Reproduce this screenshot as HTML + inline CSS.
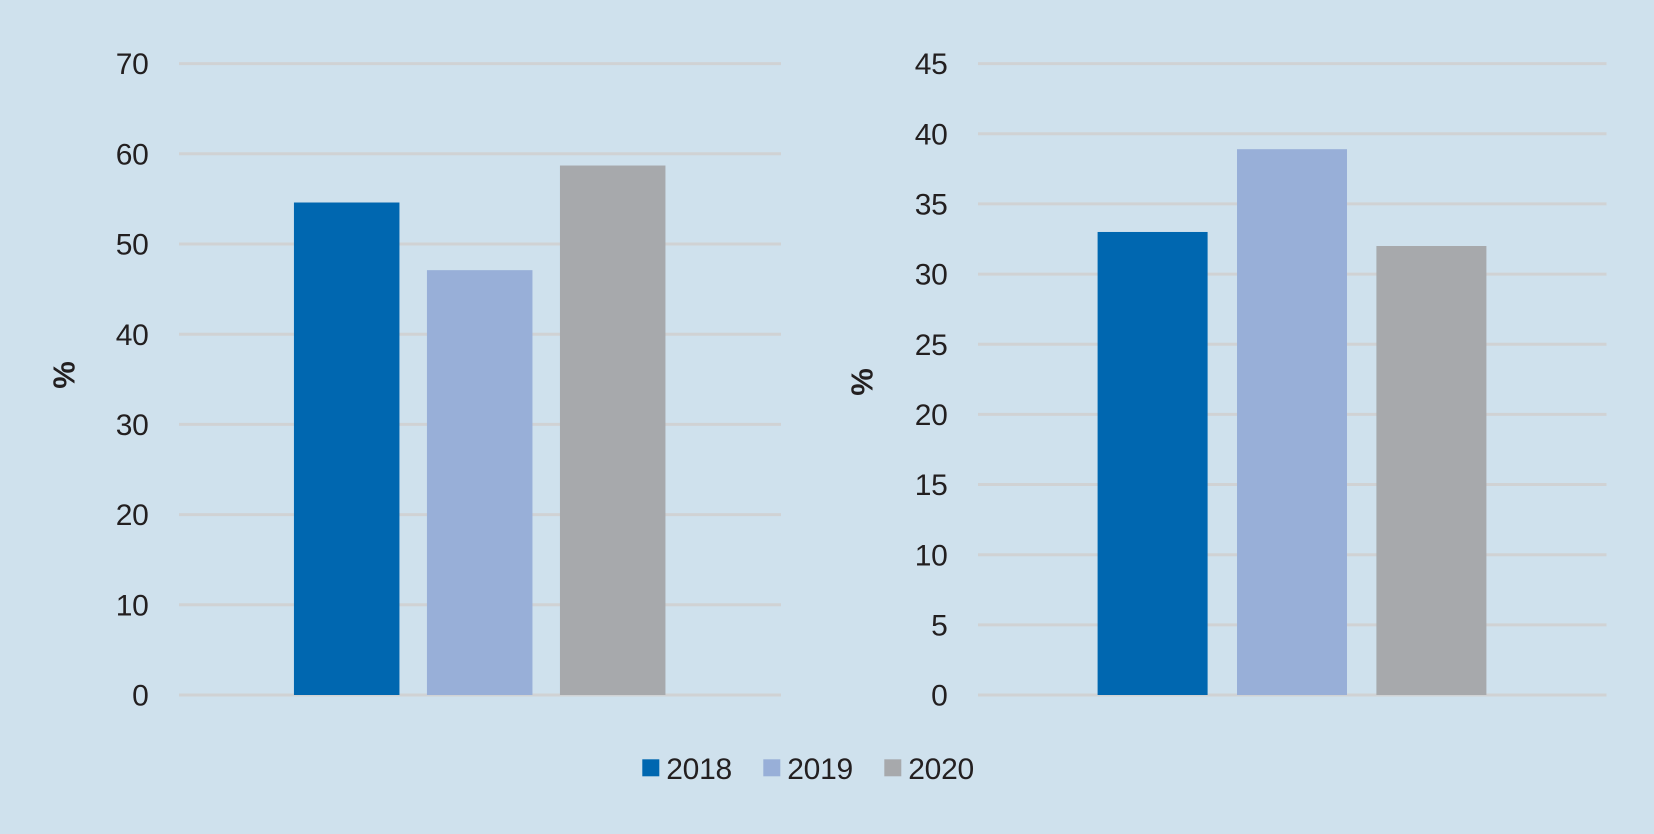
<!DOCTYPE html>
<html lang="en">
<head>
<meta charset="utf-8">
<title>Two-panel bar chart, 2018–2020</title>
<style>
  html, body { margin: 0; padding: 0; background: #cfe1ed; }
  svg { display: block; font-family: "Liberation Sans", sans-serif; }
  text { fill: #231f20; }
</style>
</head>
<body>
<svg id="chart" xmlns="http://www.w3.org/2000/svg" width="1654" height="834" viewBox="0 0 1654 834">
  <rect x="0" y="0" width="1654" height="834" fill="#cfe1ed"></rect>
  <g id="panel-left"></g>
  <g id="panel-right"></g>
  <g id="legend"></g>
</svg>
<script>
const years = ['2018', '2019', '2020'];
const leftValues = [54.6, 47.1, 58.7];
const rightValues = [33, 38.9, 32];
const leftTicks = [0, 10, 20, 30, 40, 50, 60, 70];
const rightTicks = [0, 5, 10, 15, 20, 25, 30, 35, 40, 45];
const axisLabel = '%';

const colors = ['#0067b0', '#98afd8', '#a7a9ac'];
const NS = 'http://www.w3.org/2000/svg';

function make(parent, tag, attrs, text) {
  const el = document.createElementNS(NS, tag);
  for (const k in attrs) el.setAttribute(k, attrs[k]);
  if (text !== undefined) el.textContent = text;
  parent.appendChild(el);
  return el;
}

function drawPanel(parent, prefix, cfg, values, ticks) {
  const maxTick = Math.max.apply(null, ticks);
  const yScale = function (v) { return cfg.bottom - (v / maxTick) * (cfg.bottom - cfg.top); };

  ticks.forEach(function (t) {
    const y = yScale(t);
    const line = make(parent, 'line', { x1: cfg.gridLeft, x2: cfg.gridRight, y1: y, y2: y, stroke: '#d0d2d4', 'stroke-width': 3 });
    
    
    const label = make(parent, 'text', { x: cfg.labelRight, y: y + 10.6, 'text-anchor': 'end', 'font-size': 30, 'letter-spacing': -0.3 }, String(t));
    
    
  });

  values.forEach(function (v, i) {
    const x = cfg.center + (i - 1) * cfg.step - cfg.barWidth / 2;
    const y = yScale(v);
    const bar = make(parent, 'rect', { x: x, y: y, width: cfg.barWidth, height: cfg.bottom - y, fill: colors[i] });
    
    
  });

  const title = make(parent, 'text', {
    x: 0, y: 0, 'text-anchor': 'middle', 'dominant-baseline': 'central',
    'font-size': 31, 'font-weight': 'bold',
    transform: 'translate(' + cfg.titleX + ' ' + cfg.titleY + ') rotate(-90)'
  }, axisLabel);
  
  
}

drawPanel(document.getElementById('panel-left'), 'left', {
  top: 63.6, bottom: 695, gridLeft: 179, gridRight: 781, labelRight: 148.5,
  center: 479.7, step: 133, barWidth: 105.5, titleX: 64, titleY: 375
}, leftValues, leftTicks);

drawPanel(document.getElementById('panel-right'), 'right', {
  top: 63.6, bottom: 695, gridLeft: 978, gridRight: 1606.5, labelRight: 947.5,
  center: 1292, step: 139.4, barWidth: 110, titleX: 862, titleY: 382
}, rightValues, rightTicks);

const legendGroup = document.getElementById('legend');
years.forEach(function (yr, i) {
  const x0 = 642.3 + i * 121;
  const swatch = make(legendGroup, 'rect', { x: x0, y: 759.3, width: 17, height: 17, fill: colors[i] });
  
  
  const label = make(legendGroup, 'text', { x: x0 + 24, y: 778.8, 'font-size': 30, 'letter-spacing': -0.3 }, yr);
  
  
});
</script>
</body>
</html>
